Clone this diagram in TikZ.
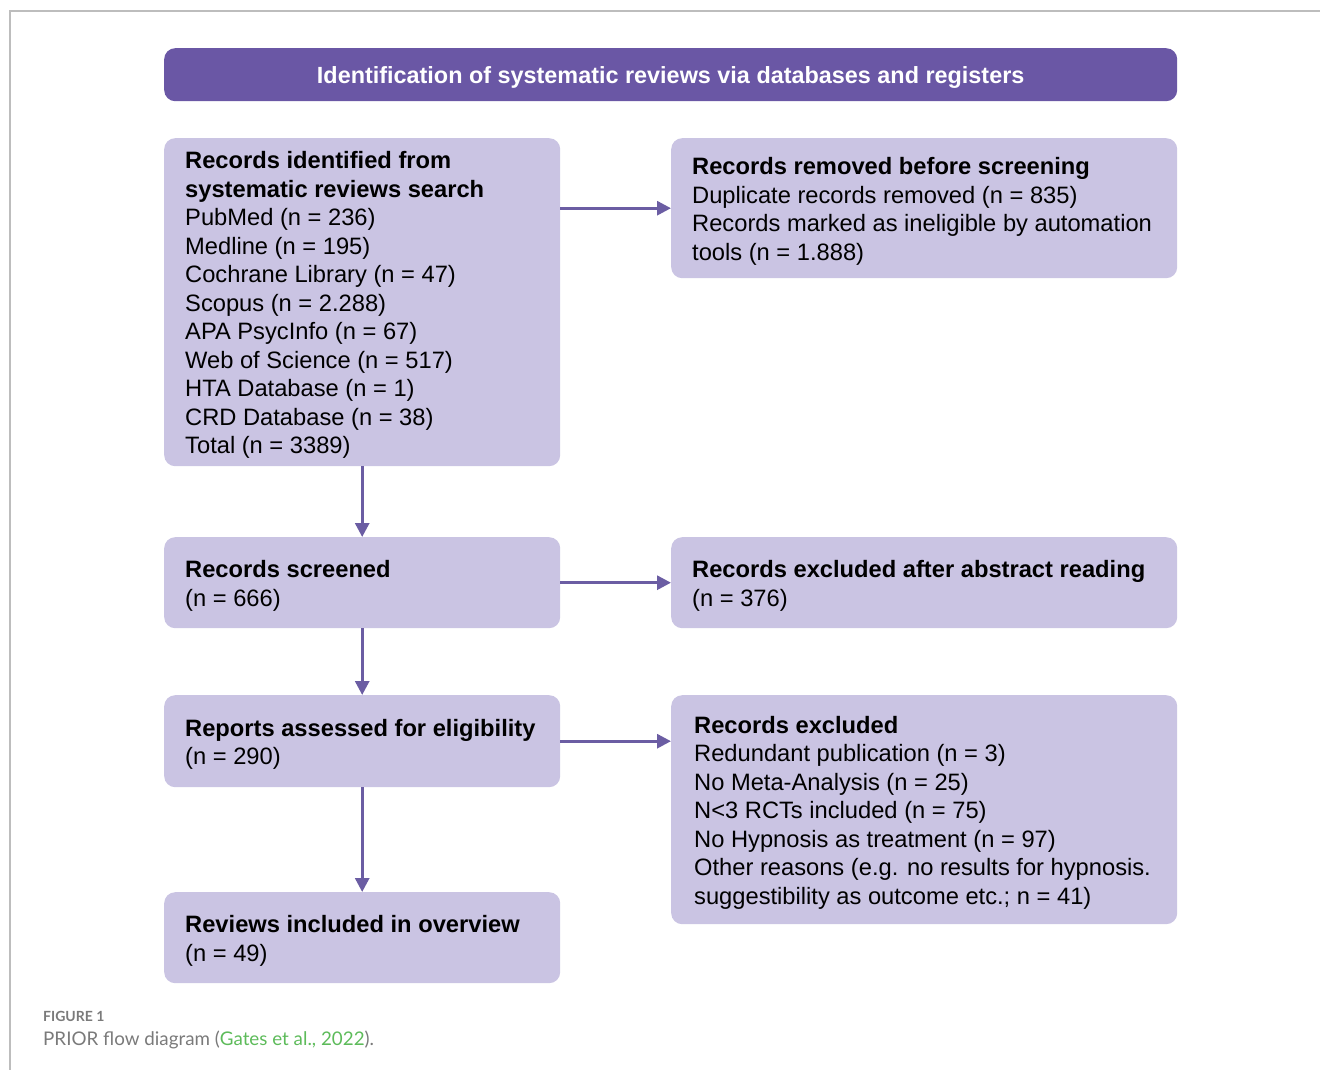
\documentclass[tikz,border=0pt]{standalone}
\usepackage{fontspec}
\setmainfont{Liberation Sans}
\newfontfamily\capfont{Lato}
\usetikzlibrary{arrows.meta}
\definecolor{hdr}{HTML}{6A57A5}
\definecolor{boxfill}{HTML}{CAC4E3}
\definecolor{arr}{HTML}{6B5DA3}
\definecolor{framegray}{HTML}{BDBDBD}
\definecolor{capgray}{HTML}{7A7A7A}
\definecolor{capgreen}{HTML}{5DBB5A}
\begin{document}
\begin{tikzpicture}[x=1pt,y=-1pt,
  boxshape/.style={fill=boxfill, rounded corners=11pt, anchor=north west, inner sep=0pt},
  txt/.style={anchor=west, align=left, inner sep=0pt, font=\fontsize{23.7}{28.5}\selectfont},
  flow/.style={draw=arr, line width=3pt, -{Triangle[length=14pt,width=14pt]}}]
\useasboundingbox (0,0) rectangle (1320,1070);
\draw[framegray, line width=1.5pt] (1320,11) -- (10,11) -- (10,1070);

\node[fill=hdr, rounded corners=11pt, anchor=north west, minimum width=1013pt, minimum height=53pt,
  inner sep=0pt, text=white, font=\bfseries\fontsize{23.4}{28}\selectfont] (hdr) at (164,48) {};
\node[text=white, inner sep=0pt, font=\bfseries\fontsize{23.4}{28}\selectfont] (hdrt) at ([yshift=-3pt]hdr.center)
  {Identification of systematic reviews via databases and registers};

\node[boxshape, minimum width=396pt, minimum height=328pt] (a) at (164,138) {};
\node[boxshape, minimum width=506pt, minimum height=140pt] (b) at (671,138) {};
\node[boxshape, minimum width=396pt, minimum height=91pt] (c) at (164,537) {};
\node[boxshape, minimum width=506pt, minimum height=91pt] (d) at (671,537) {};
\node[boxshape, minimum width=396pt, minimum height=92pt] (e) at (164,695) {};
\node[boxshape, minimum width=506pt, minimum height=229pt] (f) at (671,695) {};
\node[boxshape, minimum width=396pt, minimum height=91pt] (g) at (164,892) {};

\node[txt] (at) at ([xshift=21pt,yshift=-3pt]a.west) {\textbf{Records identified from}\\\textbf{systematic reviews search}\\PubMed (n = 236)\\Medline (n = 195)\\Cochrane Library (n = 47)\\Scopus (n = 2.288)\\APA PsycInfo (n = 67)\\Web of Science (n = 517)\\HTA Database (n = 1)\\CRD Database (n = 38)\\Total (n = 3389)};
\node[txt] (bt) at ([xshift=21pt,yshift=-3pt]b.west) {\textbf{Records removed before screening}\\Duplicate records removed (n = 835)\\Records marked as ineligible by automation\\tools (n = 1.888)};
\node[txt] (ct) at ([xshift=21pt,yshift=-3pt]c.west) {\textbf{Records screened}\\(n = 666)};
\node[txt] (dt) at ([xshift=21pt,yshift=-3pt]d.west) {\textbf{Records excluded after abstract reading}\\(n = 376)};
\node[txt] (et) at ([xshift=21pt,yshift=-3pt]e.west) {\textbf{Reports assessed for eligibility}\\(n = 290)};
\node[txt] (ft) at ([xshift=23pt,yshift=-3pt]f.west) {\textbf{Records excluded}\\Redundant publication (n = 3)\\No Meta-Analysis (n = 25)\\N<3 RCTs included (n = 75)\\No Hypnosis as treatment (n = 97)\\Other reasons (e.g. no results for hypnosis.\\suggestibility as outcome etc.; n = 41)};
\node[txt] (gt) at ([xshift=21pt,yshift=-3pt]g.west) {\textbf{Reviews included in overview}\\(n = 49)};

\draw[flow] (a.east |- b.west) -- (b.west);
\draw[flow] (c.east) -- (d.west);
\draw[flow] (e.east) -- (e.east -| f.west);
\draw[flow] (a.south) -- (c.north);
\draw[flow] (c.south) -- (e.north);
\draw[flow] (e.south) -- (g.north);

\node[anchor=base west, inner sep=0pt, text=capgray, font=\capfont\bfseries\fontsize{14}{16}\selectfont] (figlbl) at (43,1021) {FIGURE 1};
\node[anchor=base west, inner sep=0pt, text=capgray, font=\capfont\fontsize{18.8}{22}\selectfont] (figcap) at (43,1045) {PRIOR flow diagram (\textcolor{capgreen}{Gates et al., 2022}).};
\end{tikzpicture}
\end{document}
